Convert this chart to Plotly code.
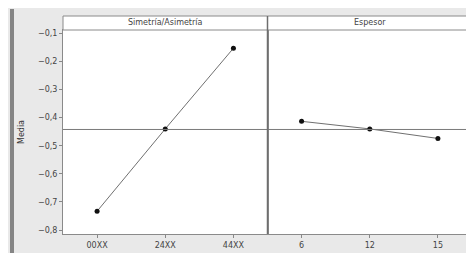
import plotly.graph_objects as go
from plotly.subplots import make_subplots

sim_labels = ["00XX", "24XX", "44XX"]
sim_means = [-0.733, -0.440, -0.153]
esp_labels = ["6", "12", "15"]
esp_means = [-0.413, -0.440, -0.474]
grand_mean = -0.442
panel_titles = ["Simetría/Asimetría", "Espesor"]
y_ticks = [-0.1, -0.2, -0.3, -0.4, -0.5, -0.6, -0.7, -0.8]
y_title = "Media"

fig = make_subplots(rows=1, cols=2, shared_yaxes=True, horizontal_spacing=0)

for i, (xs, ys) in enumerate([(sim_labels, sim_means), (esp_labels, esp_means)], start=1):
    fig.add_trace(go.Scatter(x=xs, y=ys, mode="lines+markers",
                             line=dict(color="#707070", width=1),
                             marker=dict(color="#111111", size=5),
                             showlegend=False), row=1, col=i)
    fig.add_hline(y=grand_mean, line=dict(color="#7a7a7a", width=1), row=1, col=i)

axfont = dict(family="DejaVu Sans", size=8, color="#444444")
for i in (1, 2):
    fig.update_xaxes(type="category", range=[-0.5, 2.5], showgrid=False, zeroline=False,
                     showline=True, linecolor="#8a8a8a", linewidth=1, mirror=True,
                     ticks="outside", ticklen=3, tickcolor="#888888", tickfont=axfont,
                     row=1, col=i)
    fig.update_yaxes(range=[-0.814, -0.088], showgrid=False, zeroline=False,
                     showline=True, linecolor="#8a8a8a", linewidth=1, mirror=True,
                     row=1, col=i)
fig.update_yaxes(tickvals=y_ticks, ticks="outside", ticklen=3, tickcolor="#888888",
                 tickformat=".1f", tickfont=axfont,
                 title=dict(text=y_title, font=dict(family="DejaVu Sans", size=8, color="#333333"), standoff=12),
                 row=1, col=1)

W, H = 409.0, 204.0
shapes = []
# darker frame band at top (split in pieces) and left
shapes.append(dict(type="rect", xref="paper", yref="paper", x0=-53/W, x1=0, y0=1+17.5/H, y1=1+21/H,
                   fillcolor="#858585", line=dict(width=0), layer="above"))
shapes.append(dict(type="rect", xref="paper", yref="paper", x0=0, x1=1, y0=1+17.5/H, y1=1+21/H,
                   fillcolor="#858585", line=dict(width=0), layer="above"))
shapes.append(dict(type="rect", xref="paper", yref="paper", x0=-53/W, x1=-49/W, y0=-19/H, y1=1+21/H,
                   fillcolor="#858585", line=dict(width=0), layer="above"))
# white strip under the grey frame
shapes.append(dict(type="rect", xref="paper", yref="paper", x0=-55/W, x1=1, y0=-26/H, y1=-19/H,
                   fillcolor="white", line=dict(width=0), layer="above"))
# strips
for x0, x1 in [(0, 0.5), (0.5, 1)]:
    shapes.append(dict(type="rect", xref="paper", yref="paper", x0=x0, x1=x1, y0=1, y1=1 + 14/H,
                       fillcolor="white", line=dict(color="#8a8a8a", width=1)))
# divider
shapes.append(dict(type="line", xref="paper", yref="paper", x0=0.5, x1=0.5, y0=0, y1=1 + 14/H,
                   line=dict(color="#6e6e6e", width=1.5)))

annotations = []
for j, t in enumerate(panel_titles):
    annotations.append(dict(text=t, xref="paper", yref="paper", x=0.25 + 0.5*j, y=1 + 7/H,
                            showarrow=False, xanchor="center", yanchor="middle",
                            font=dict(family="DejaVu Sans", size=8, color="#444444")))

fig.update_layout(width=466, height=252, margin=dict(l=55, r=2, t=22, b=26),
                  paper_bgcolor="#e9e9e9", plot_bgcolor="white", separators=",.",
                  shapes=shapes, annotations=annotations, showlegend=False)

fig.write_html("out.html")
